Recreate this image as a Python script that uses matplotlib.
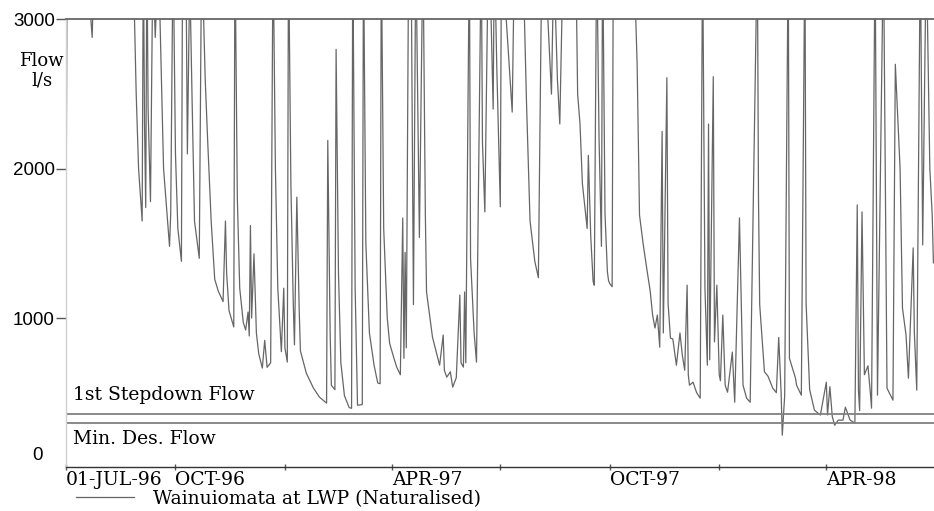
import matplotlib
matplotlib.use("Agg")
import matplotlib.pyplot as plt
import numpy as np

# ---- data (days since 01-Jul-1996, flow in l/s) ----
day = [0, 1, 20, 22, 24, 45, 57, 59, 61, 64, 65, 66, 67, 68, 69, 71, 73, 75, 77, 79,
       82, 87, 88, 90, 92, 94, 97, 98, 101, 102, 104, 106, 108, 112, 114, 117, 119, 122,
       125, 128, 132, 134, 135, 137, 141, 142, 144, 146, 149, 151, 153, 154, 155, 156,
       158, 160, 162, 165, 167, 169, 172, 174, 176, 178, 181, 183, 184, 186, 187, 189,
       191, 192, 194, 196, 197, 202, 208, 213, 218, 219, 220, 222, 223, 226, 227, 229,
       231, 234, 238, 240, 241, 243, 245, 249, 250, 252, 255, 259, 262, 264, 265, 267,
       270, 272, 276, 278, 281, 283, 284, 285, 286, 288, 290, 292, 294, 297, 300, 302,
       303, 308, 314, 317, 318, 320, 323, 325, 328, 331, 332, 334, 335, 336, 339, 340,
       343, 345, 349, 350, 352, 355, 357, 359, 360, 362, 365, 366, 370, 375, 377, 385,
       387, 390, 394, 397, 400, 405, 408, 410, 413, 415, 418, 423, 429, 430, 432, 434,
       438, 439, 441, 443, 444, 446, 448, 450, 451, 453, 455, 456, 457, 459, 460, 477,
       480, 482, 485, 488, 491, 493, 495, 497, 499, 501, 502, 505, 506, 508, 510, 513,
       516, 518, 520, 522, 523, 524, 527, 530, 533, 535, 537, 539, 540, 541, 544, 545,
       547, 549, 550, 552, 554, 556, 560, 562, 566, 569, 572, 575, 581, 582, 583, 587,
       590, 594, 597, 599, 601, 602, 604, 607, 608, 613, 614, 618, 621, 622, 624, 625,
       629, 634, 639, 640, 642, 644, 646, 649, 653, 655, 659, 663, 665, 666, 667, 669,
       671, 674, 676, 677, 680, 682, 687, 690, 695, 697, 701, 703, 706, 708, 712, 713,
       715, 718, 720, 723, 726, 728, 729]
flow = [1540, 3500, 3100, 2880, 3500, 3800, 3200, 2500, 2000, 1650, 3500, 2300, 1740, 3500, 2400, 1780, 3400, 2880, 3300, 3000,
        2000, 1480, 1700, 3500, 2100, 1600, 1380, 3500, 3200, 2100, 3300, 2450, 1650, 1400, 3500, 2600, 2200, 1650,
        1260, 1180, 1110, 1650, 1300, 1050, 940, 3500, 1800, 1200, 970, 920, 1040, 880, 1620, 1000,
        1430, 900, 760, 665, 850, 670, 700, 3500, 2000, 1200, 775, 1200, 800, 705, 3500, 1900,
        1100, 820, 1810, 1050, 780, 630, 530, 470, 436, 430, 2190, 900, 550, 520, 2800, 1300,
        700, 480, 400, 395, 3500, 1200, 416, 420, 3500, 1500, 900, 680, 565, 560, 3500, 1600,
        1000, 830, 720, 670, 620, 1670, 730, 1440, 800, 3500, 3500, 1090, 3500, 1540, 3500, 1700,
        1175, 872, 684, 886, 650, 604, 640, 537, 600, 1154, 700, 671, 1175, 700, 3500, 1400,
        900, 705, 3500, 2180, 1711, 3500, 3100, 2400, 3500, 2700, 1745, 3500, 3000, 2380, 3500, 3100,
        2450, 1650, 1380, 1270, 3500, 3000, 2500, 3400, 2600, 2300, 3500, 3300, 3100, 2500, 2300, 1900,
        1600, 2090, 1550, 1245, 1220, 3500, 2200, 1480, 3500, 1700, 1310, 1250, 1230, 1210, 3500, 3500,
        2700, 1690, 1500, 1336, 1180, 1020, 933, 1020, 805, 2250, 900, 2610, 1100, 865, 860, 684,
        900, 750, 650, 1220, 620, 550, 570, 500, 463, 3500, 1200, 684, 2300, 720, 2617, 840,
        1220, 620, 580, 1020, 550, 503, 772, 436, 1671, 550, 463, 436, 3500, 1800, 1090, 640,
        610, 530, 500, 870, 500, 215, 480, 3500, 730, 600, 550, 483, 3500, 1100, 705, 520,
        383, 350, 570, 350, 540, 340, 282, 316, 316, 403, 316, 296, 1758, 520, 380, 1711,
        620, 680, 500, 396, 3500, 483, 3500, 530, 450, 2700, 2000, 1067, 886, 597, 1470, 900,
        517, 3500, 1490, 3500, 2000, 1690, 1370]

stepdown_flow = 360
min_des_flow = 300

tick_days = [0, 92, 184, 274, 365, 457, 549, 639]
tick_labels = ["01-JUL-96", "OCT-96", "", "APR-97", "", "OCT-97", "", "APR-98"]
y_ticks = [1000, 2000, 3000]
series_name = "Wainuiomata at LWP (Naturalised)"

SERIF = "DejaVu Serif"
SANS = "Liberation Sans"

fig = plt.figure(figsize=(9.34, 5.11), dpi=100)
ax = fig.add_axes([66 / 934, 1 - 467.3 / 511, 1 - 66 / 934, (467.3 - 19.5) / 511])

line, = ax.plot(day, flow, color="#666666", lw=0.9, label=series_name)
ax.axhline(stepdown_flow, color="#808080", lw=1.3)
ax.axhline(min_des_flow, color="#808080", lw=1.3)

ax.set_xlim(0, 729.5)
ax.set_ylim(0, 3000)

ax.spines["right"].set_visible(False)
ax.spines["top"].set_color("#666666")
ax.spines["top"].set_linewidth(1.3)
ax.spines["left"].set_color("#d0d0d0")
ax.spines["left"].set_linewidth(1.0)
ax.spines["bottom"].set_color("#333333")
ax.spines["bottom"].set_linewidth(1.0)

ax.set_yticks(y_ticks)
ax.set_yticklabels([str(v) for v in y_ticks], fontfamily=SANS, fontsize=13.5)
ax.tick_params(axis="y", length=7, width=1, color="#555555", pad=1)

ax.set_xticks(tick_days)
ax.set_xticklabels(tick_labels, fontfamily=SERIF, fontsize=13.5)
ax.tick_params(axis="x", length=5, width=1, color="#555555", direction="inout", pad=0)
for lbl in ax.get_xticklabels():
    lbl.set_ha("left")

# zero label, sitting a little above the axis line
ax.text(-0.027, 12 / 448, "0", transform=ax.transAxes, ha="right", va="center",
        fontfamily=SANS, fontsize=13.5)

# y-axis title
ax.text(-0.028, 0.885, "Flow\nl/s", transform=ax.transAxes, ha="center", va="center",
        fontfamily=SERIF, fontsize=13, linespacing=1.1)

# reference line labels
ax.text(6, 485, "1st Stepdown Flow", ha="left", va="center", fontfamily=SERIF, fontsize=13.5)
ax.text(6, 190, "Min. Des. Flow", ha="left", va="center", fontfamily=SERIF, fontsize=13.5)

fig.legend(handles=[line], loc="center left", bbox_to_anchor=(76 / 934, 1 - 499 / 511),
           frameon=False, prop={"family": SERIF, "size": 13.5}, handlelength=3.1,
           handletextpad=1.0, borderpad=0, borderaxespad=0)

fig.savefig("out.png", dpi=100)
